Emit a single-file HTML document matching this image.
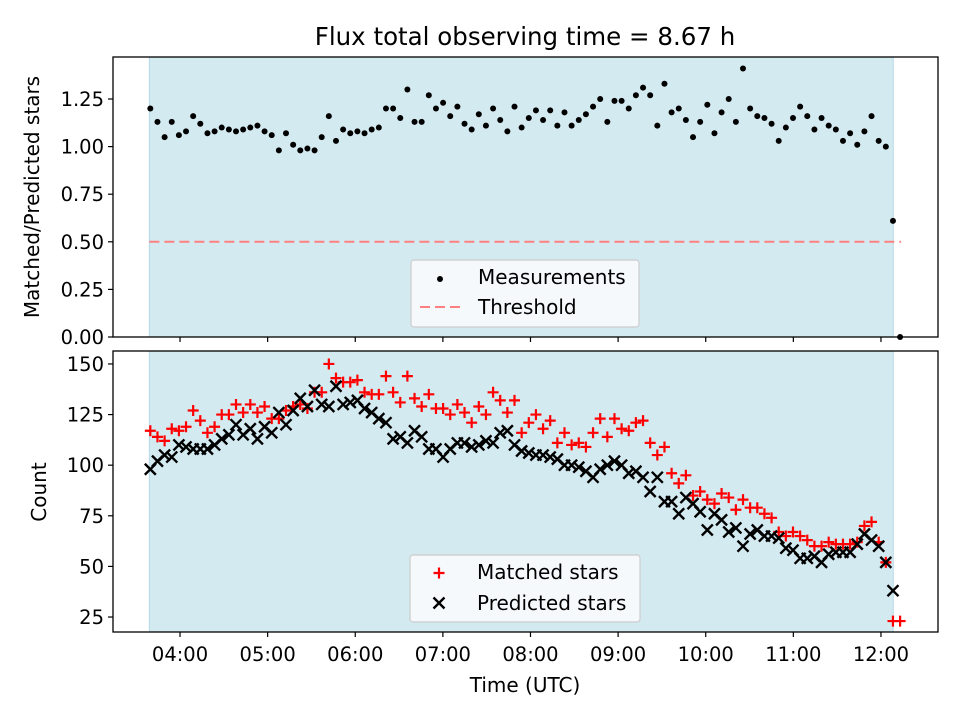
<!DOCTYPE html>
<html><head><meta charset="utf-8"><style>
html,body{margin:0;padding:0;background:#fff;}
svg{display:block;font-family:"DejaVu Sans","Liberation Sans",sans-serif;}
</style></head><body>
<svg id="fig" width="960" height="720" viewBox="0 0 960 720" xmlns="http://www.w3.org/2000/svg"></svg>
<script>
// ---- data ----
const startHour = 3.661;
const stepHour = 0.0815;
const obsStart = 3.65;
const obsEnd = 12.14;
const threshold = 0.5;
const ratioValues = [1.20,1.13,1.05,1.13,1.06,1.08,1.16,1.12,1.07,1.08,1.10,1.09,1.08,1.09,1.10,1.11,1.08,1.06,0.98,1.07,1.01,0.98,0.99,0.98,1.05,1.16,1.03,1.09,1.07,1.08,1.07,1.09,1.10,1.20,1.20,1.15,1.30,1.13,1.13,1.27,1.20,1.23,1.16,1.21,1.12,1.09,1.17,1.11,1.20,1.14,1.08,1.21,1.10,1.15,1.19,1.14,1.19,1.11,1.18,1.11,1.14,1.17,1.21,1.25,1.13,1.24,1.24,1.20,1.27,1.31,1.27,1.11,1.33,1.18,1.20,1.14,1.05,1.13,1.22,1.07,1.18,1.25,1.13,1.41,1.20,1.16,1.15,1.12,1.03,1.10,1.15,1.21,1.16,1.09,1.15,1.11,1.09,1.03,1.07,1.01,1.08,1.16,1.03,1.00,0.61,0.00];
const matchedValues = [117,114,112,118,117,119,127,122,116,119,125,125,130,126,130,126,129,123,123,127,129,130,128,136,136,150,143,141,141,142,136,135,135,144,136,131,144,133,129,135,128,128,125,130,126,121,129,125,136,132,126,132,116,121,125,118,122,111,116,110,111,109,116,123,114,123,118,117,121,122,111,105,109,96,91,95,85,87,83,81,86,84,78,83,79,79,76,74,67,65,67,65,63,60,60,62,61,61,61,62,70,72,62,52,23,23];
const predictedValues = [98,102,105,104,110,109,108,108,108,110,113,115,120,115,118,113,119,116,126,120,127,133,129,137,130,129,139,130,131,132,128,126,123,121,113,114,111,117,114,108,108,104,108,111,111,109,110,112,111,116,117,110,107,106,105,105,104,103,100,100,99,97,94,98,100,102,100,96,97,94,87,94,82,82,76,84,81,77,68,76,73,67,69,60,66,68,65,65,64,59,58,54,54,55,52,56,57,57,57,61,66,63,60,52,38,null];
const xTickHours = [4,5,6,7,8,9,10,11,12];
const xTickLabels = ["04:00","05:00","06:00","07:00","08:00","09:00","10:00","11:00","12:00"];
const topTicks = [0,0.25,0.5,0.75,1.0,1.25];
const topTickLabels = ["0.00","0.25","0.50","0.75","1.00","1.25"];
const botTicks = [25,50,75,100,125,150];
const botTickLabels = ["25","50","75","100","125","150"];

// ---- layout ----
const L=113,R=938, T1=57,B1=337, T2=351,B2=632;
const xMin=3.235,xMax=12.651;
const x = h => L + (h-xMin)/(xMax-xMin)*(R-L);
const yTop = v => B1 - (v-0)/(1.4706-0)*(B1-T1);
const yBot = v => B2 - (v-17.6)/(156.4-17.6)*(B2-T2);
const tAt = i => startHour + i*stepHour;
const NS="http://www.w3.org/2000/svg";
const svg=document.getElementById('fig');
function mk(tag,attrs,parent){const e=document.createElementNS(NS,tag);for(const k in attrs)e.setAttribute(k,attrs[k]);(parent||svg).appendChild(e);return e;}

function panel(T,B,name){
  const g=mk('g',{});
  
  
  const sh=mk('rect',{x:x(obsStart),y:T,width:x(obsEnd)-x(obsStart),height:B-T,fill:'#d4eaf1',stroke:'#b3d9e6','stroke-width':1},g);
  
  
  return g;
}
function frame(T,B,g){
  const f=mk('rect',{x:L,y:T,width:R-L,height:B-T,fill:'none',stroke:'#000','stroke-width':1.3},g);
  
  
}
function xticks(B,labels,g){
  xTickHours.forEach((h,i)=>{
    const t=mk('line',{x1:x(h),x2:x(h),y1:B,y2:B+5,stroke:'#000','stroke-width':1.2},g);
    
    
    if(labels){
      const tx=mk('text',{x:x(h),y:B+29,'text-anchor':'middle','font-size':19.5,fill:'#000'},g);
      tx.textContent=xTickLabels[i];
      
      
    }
  });
}
function yticks(vals,labs,yf,g){
  vals.forEach((v,i)=>{
    const t=mk('line',{x1:L-5,x2:L,y1:yf(v),y2:yf(v),stroke:'#000','stroke-width':1.2},g);
    
    
    const tx=mk('text',{x:L-9,y:yf(v)+7,'text-anchor':'end','font-size':19.5,fill:'#000'},g);
    tx.textContent=labs[i];
    
    
  });
}

// ---- top panel ----
const gTop=panel(T1,B1,'ratio-panel');
const th=mk('line',{x1:x(obsStart),x2:x(12.23),y1:yTop(threshold),y2:yTop(threshold),stroke:'#ff8080','stroke-width':2,'stroke-dasharray':'10,5'},gTop);


ratioValues.forEach((v,i)=>{
  const c=mk('circle',{cx:x(tAt(i)),cy:yTop(v),r:3,fill:'#000'},gTop);
  
  
});
frame(T1,B1,gTop);
xticks(B1,false,gTop);
yticks(topTicks,topTickLabels,yTop,gTop);

// ---- bottom panel ----
const gBot=panel(T2,B2,'count-panel');
matchedValues.forEach((v,i)=>{
  if(v==null)return;
  const cx=x(tAt(i)),cy=yBot(v),s=5.5;
  const p=mk('path',{d:`M${cx-s},${cy}H${cx+s}M${cx},${cy-s}V${cy+s}`,stroke:'#ff0000','stroke-width':2.2,fill:'none'},gBot);
  
  
});
predictedValues.forEach((v,i)=>{
  if(v==null)return;
  const cx=x(tAt(i)),cy=yBot(v),s=5.5;
  const p=mk('path',{d:`M${cx-s},${cy-s}L${cx+s},${cy+s}M${cx-s},${cy+s}L${cx+s},${cy-s}`,stroke:'#000','stroke-width':2.4,fill:'none'},gBot);
  
  
});
frame(T2,B2,gBot);
xticks(B2,true,gBot);
yticks(botTicks,botTickLabels,yBot,gBot);
</script>
<svg width="0" height="0" style="position:absolute"></svg>
<script>
// ---- static text & legends ----
(function(){
const NS="http://www.w3.org/2000/svg";
const svg=document.getElementById('fig');
function mk(tag,attrs,parent){const e=document.createElementNS(NS,tag);for(const k in attrs)e.setAttribute(k,attrs[k]);(parent||svg).appendChild(e);return e;}
const title=mk('text',{x:525,y:45,'text-anchor':'middle','font-size':24.5,fill:'#000'});
title.textContent='Flux total observing time = 8.67 h';


const xl=mk('text',{x:525,y:692,'text-anchor':'middle','font-size':20,fill:'#000'});
xl.textContent='Time (UTC)';


const yl1=mk('text',{x:0,y:0,'text-anchor':'middle','font-size':20,fill:'#000',transform:'translate(39,197) rotate(-90)'});
yl1.textContent='Matched/Predicted stars';


const yl2=mk('text',{x:0,y:0,'text-anchor':'middle','font-size':20,fill:'#000',transform:'translate(46,492) rotate(-90)'});
yl2.textContent='Count';



// top legend
const lg1=mk('g',{});


mk('rect',{x:411,y:260,width:228,height:67,rx:3,fill:'#f5f9fb',stroke:'#cccccc','stroke-width':1.2},lg1);
const d1=mk('circle',{cx:440,cy:279,r:3,fill:'#000'},lg1);


const t1=mk('text',{x:478,y:284,'font-size':20,fill:'#000'},lg1);t1.textContent='Measurements';


const d2=mk('line',{x1:420,x2:461,y1:307,y2:307,stroke:'#ff8080','stroke-width':2,'stroke-dasharray':'10,5'},lg1);


const t2=mk('text',{x:478,y:314,'font-size':20,fill:'#000'},lg1);t2.textContent='Threshold';



// bottom legend
const lg2=mk('g',{});


mk('rect',{x:410,y:555,width:230,height:67,rx:3,fill:'#f5f9fb',stroke:'#cccccc','stroke-width':1.2},lg2);
const m1=mk('path',{d:'M433.5,573H444.5M439,567.5V578.5',stroke:'#ff0000','stroke-width':2.2},lg2);


const u1=mk('text',{x:477,y:579,'font-size':20,fill:'#000'},lg2);u1.textContent='Matched stars';


const m2=mk('path',{d:'M433.5,597.5L444.5,608.5M433.5,608.5L444.5,597.5',stroke:'#000','stroke-width':2.4},lg2);


const u2=mk('text',{x:477,y:610,'font-size':20,fill:'#000'},lg2);u2.textContent='Predicted stars';


})();
</script>
</body></html>
